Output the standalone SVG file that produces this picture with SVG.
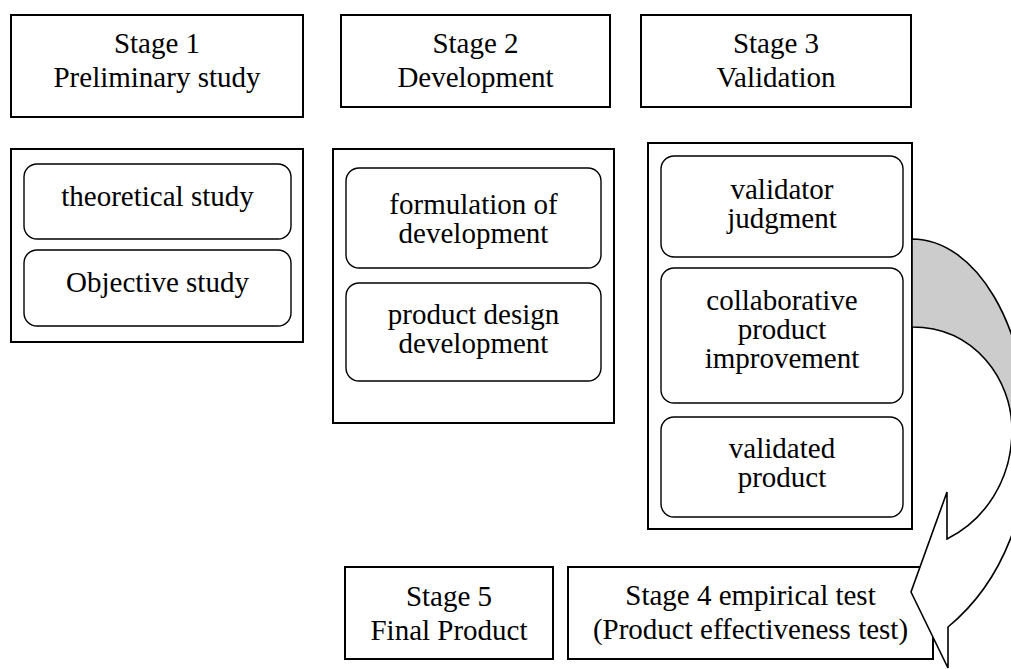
<svg xmlns="http://www.w3.org/2000/svg" width="1011" height="669" viewBox="0 0 1011 669">
<style>
.box{fill:#fff;stroke:#000;stroke-width:2}
.rb{fill:#fff;stroke:#000;stroke-width:1.4}
text{font-family:"Liberation Serif","Times New Roman",serif;font-size:29px;fill:#000;text-anchor:middle}
.arr{stroke:#000;stroke-width:1.6;stroke-linejoin:miter}
</style>
<rect width="1011" height="669" fill="#fff"/>
<g id="stage1">
<rect class="box" x="11" y="15" width="292" height="102"/>
<text x="157" y="53">Stage 1</text>
<text x="157" y="87">Preliminary study</text>
</g>
<g id="stage2">
<rect class="box" x="341" y="15" width="269" height="92"/>
<text x="475.5" y="53">Stage 2</text>
<text x="475.5" y="87">Development</text>
</g>
<g id="stage3">
<rect class="box" x="641" y="15" width="270" height="92"/>
<text x="776" y="53">Stage 3</text>
<text x="776" y="87">Validation</text>
</g>
<g id="stage1-content">
<rect class="box" x="11" y="149" width="292" height="193"/>
<g id="theoretical-study">
<rect class="rb" x="24" y="164" width="267" height="75" rx="13"/>
<text x="157.5" y="206">theoretical study</text>
</g>
<g id="objective-study">
<rect class="rb" x="24" y="250" width="267" height="76" rx="13"/>
<text x="157.5" y="292">Objective study</text>
</g>
</g>
<g id="stage2-content">
<rect class="box" x="333" y="149" width="281" height="274"/>
<g id="formulation">
<rect class="rb" x="346" y="168" width="255" height="100" rx="13"/>
<text x="473.5" y="214">formulation of</text>
<text x="473.5" y="243">development</text>
</g>
<g id="product-design">
<rect class="rb" x="346" y="283" width="255" height="98" rx="13"/>
<text x="473.5" y="324">product design</text>
<text x="473.5" y="353">development</text>
</g>
</g>
<g id="stage3-content">
<rect class="box" x="648" y="143" width="264" height="386"/>
<g id="validator-judgment">
<rect class="rb" x="661" y="156" width="242" height="101" rx="13"/>
<text x="782" y="199">validator</text>
<text x="782" y="228">judgment</text>
</g>
<g id="collaborative">
<rect class="rb" x="661" y="268" width="242" height="135" rx="13"/>
<text x="782" y="310">collaborative</text>
<text x="782" y="339">product</text>
<text x="782" y="368">improvement</text>
</g>
<g id="validated-product">
<rect class="rb" x="661" y="417" width="242" height="100" rx="13"/>
<text x="782" y="458">validated</text>
<text x="782" y="487">product</text>
</g>
</g>
<g id="stage5">
<rect class="box" x="345" y="567" width="208" height="92"/>
<text x="449" y="606">Stage 5</text>
<text x="449" y="640">Final Product</text>
</g>
<g id="stage4">
<rect class="box" x="568" y="567" width="365" height="92"/>
<text x="750.5" y="605">Stage 4 empirical test</text>
<text x="750.5" y="639">(Product effectiveness test)</text>
</g>
<g id="connectors">
<path class="arr" fill="#cccccc" d="M912,239 C976,239 1028,327 1028,435 L1012,430 C1012,380 975,327 912,327 Z"/>
<path class="arr" fill="#ffffff" d="M1028,435 C1030,505 1005,580 948,627 L948,668 L911,592 L947,492 L947,539 C985,520 1012,480 1012,430 Z"/>
</g>
</svg>
